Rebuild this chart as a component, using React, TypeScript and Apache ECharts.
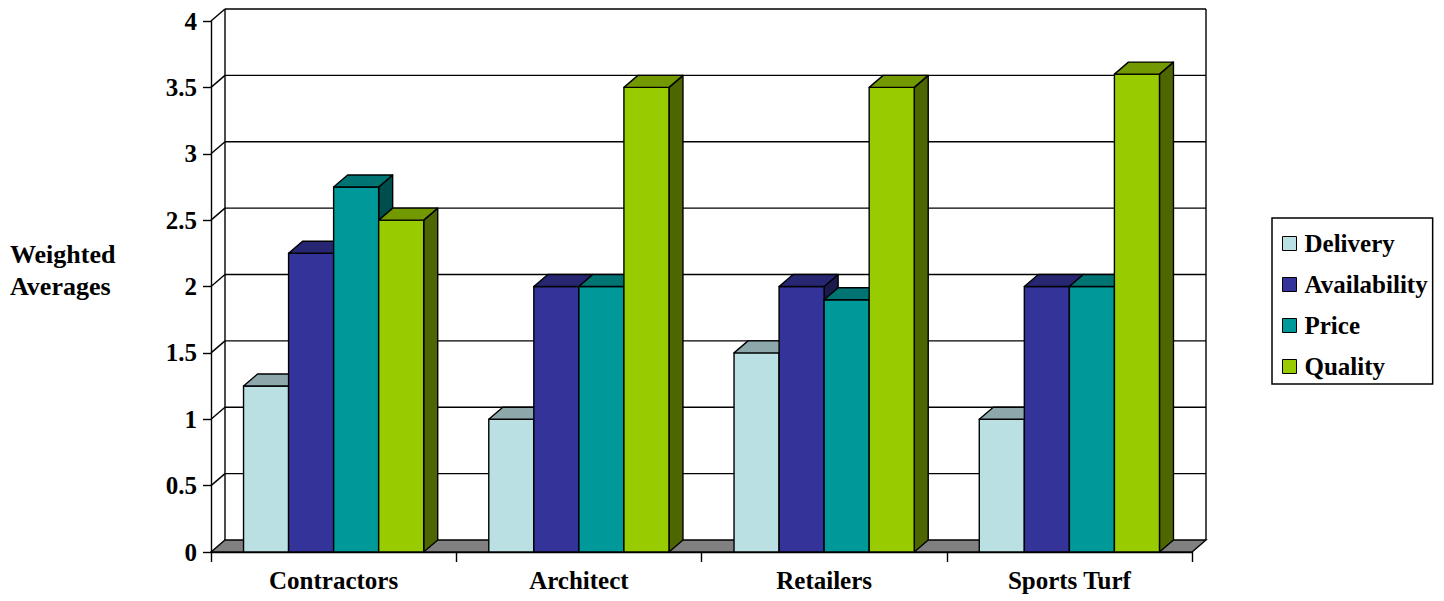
import React, { useEffect, useRef } from "react";
import * as echarts from "echarts";

const categories = ["Contractors", "Architect", "Retailers", "Sports Turf"];
const seriesNames = ["Delivery", "Availability", "Price", "Quality"];
const delivery = [1.25, 1.0, 1.5, 1.0];
const availability = [2.25, 2.0, 2.0, 2.0];
const price = [2.75, 2.0, 1.9, 2.0];
const quality = [2.5, 3.5, 3.5, 3.6];
const yTicks = [0, 0.5, 1, 1.5, 2, 2.5, 3, 3.5, 4];

const frontColors = ["#BBE0E3", "#333399", "#009999", "#99CC00"];
const topColors = ["#8CA8AA", "#262673", "#007373", "#739900"];
const sideColors = ["#5E7072", "#1A1A4D", "#004D4D", "#4D6600"];

const FONT = "Liberation Serif";
const DX = 14;
const DY = -12;
const BAR_RATIO = 45 / 245;
const LW = 1.4;

export default function App() {
  const ref = useRef<HTMLDivElement>(null);
  useEffect(() => {
    if (!ref.current) return;
    const chart = echarts.init(ref.current, null, { renderer: "svg" });
    const allValues = [delivery, availability, price, quality];

    const barSeries = allValues.map((vals, s) => ({
      name: seriesNames[s],
      type: "custom",
      clip: false,
      z: 3,
      itemStyle: { color: frontColors[s], borderColor: "#000", borderWidth: 1 },
      encode: { x: 0, y: 1 },
      data: vals.map((v, i) => [i, v]),
      renderItem: (params: any, api: any) => {
        const ci = api.value(0);
        const v = api.value(1);
        const base = api.coord([ci, 0]);
        const top = api.coord([ci, v]);
        const band = api.size([1, 0])[0];
        const bw = band * BAR_RATIO;
        const x0 = base[0] - 2 * bw + s * bw;
        const x1 = x0 + bw;
        const yb = base[1];
        const yt = top[1];
        const stroke = { stroke: "#000", lineWidth: LW, lineJoin: "round" };
        return {
          type: "group",
          children: [
            {
              type: "polygon",
              shape: { points: [[x1, yt], [x1 + DX, yt + DY], [x1 + DX, yb + DY], [x1, yb]] },
              style: { fill: sideColors[s], ...stroke },
            },
            {
              type: "rect",
              shape: { x: x0, y: yt, width: bw, height: yb - yt },
              style: { fill: frontColors[s], ...stroke },
            },
            {
              type: "polygon",
              shape: { points: [[x0, yt], [x1, yt], [x1 + DX, yt + DY], [x0 + DX, yt + DY]] },
              style: { fill: topColors[s], ...stroke },
            },
          ],
        };
      },
    }));

    const wallSeries = {
      name: "wall",
      type: "custom",
      clip: false,
      z: 1,
      silent: true,
      encode: { x: 0, y: 1 },
      data: yTicks.map((t) => [0, t]),
      renderItem: (params: any, api: any) => {
        const cs = params.coordSys;
        const t = api.value(1);
        const p = api.coord([0, t]);
        const y = p[1];
        const left = cs.x;
        const right = cs.x + cs.width;
        const children: any[] = [];
        const stroke = { stroke: "#000", lineWidth: LW };
        if (t === 0) {
          const topY = api.coord([0, yTicks[yTicks.length - 1]])[1];
          children.push({
            type: "polygon",
            shape: { points: [[left, y], [right, y], [right + DX, y + DY], [left + DX, y + DY]] },
            style: { fill: "#808080", ...stroke },
          });
          children.push({
            type: "line",
            shape: { x1: left + DX, y1: y + DY, x2: left + DX, y2: topY + DY },
            style: stroke,
          });
          children.push({
            type: "line",
            shape: { x1: right + DX, y1: y + DY, x2: right + DX, y2: topY + DY },
            style: stroke,
          });
        } else {
          children.push({
            type: "line",
            shape: { x1: left, y1: y, x2: left + DX, y2: y + DY },
            style: stroke,
          });
          children.push({
            type: "line",
            shape: { x1: left + DX, y1: y + DY, x2: right + DX, y2: y + DY },
            style: stroke,
          });
        }
        return { type: "group", children };
      },
    };

    const option = {
      animation: false,
      backgroundColor: "#fff",
      grid: { left: 211, top: 21, width: 981, height: 531, containLabel: false },
      xAxis: {
        type: "category",
        data: categories,
        boundaryGap: true,
        axisLine: { show: true, lineStyle: { color: "#000", width: LW } },
        axisTick: { show: true, length: 10, interval: 0, lineStyle: { color: "#000", width: LW } },
        axisLabel: {
          interval: 0,
          margin: 16,
          color: "#000",
          fontFamily: FONT,
          fontWeight: "bold",
          fontSize: 25,
        },
        splitLine: { show: false },
      },
      yAxis: {
        type: "value",
        min: 0,
        max: 4,
        interval: 0.5,
        axisLine: { show: true, lineStyle: { color: "#000", width: LW } },
        axisTick: { show: true, length: 8, lineStyle: { color: "#000", width: LW } },
        axisLabel: {
          margin: 14,
          color: "#000",
          fontFamily: FONT,
          fontWeight: "bold",
          fontSize: 25,
        },
        splitLine: { show: false },
      },
      legend: {
        orient: "vertical",
        left: 1272,
        top: 218,
        padding: [13, 5, 5, 10],
        itemWidth: 14,
        itemHeight: 14,
        itemGap: 16,
        icon: "rect",
        selectedMode: false,
        borderColor: "#000",
        borderWidth: 1.5,
        backgroundColor: "#fff",
        itemStyle: { borderColor: "#000", borderWidth: 1 },
        textStyle: {
          color: "#000",
          fontFamily: FONT,
          fontWeight: "bold",
          fontSize: 25,
          lineHeight: 25,
          padding: [0, 0, 0, 3],
        },
        data: seriesNames.map((n, i) => ({
          name: n,
          itemStyle: { color: frontColors[i], borderColor: "#000", borderWidth: 1 },
        })),
      },
      graphic: [
        {
          type: "text",
          left: 10,
          top: 238,
          style: {
            text: "Weighted\nAverages",
            fill: "#000",
            fontFamily: FONT,
            fontWeight: "bold",
            fontSize: 26,
            lineHeight: 32,
          },
        },
      ],
      series: [wallSeries, ...barSeries],
    };
    chart.setOption(option as any);
    return () => chart.dispose();
  }, []);
  return (
    <div
      ref={ref}
      style={{ position: "fixed", left: 0, top: 0, width: 1444, height: 601 }}
    />
  );
}
